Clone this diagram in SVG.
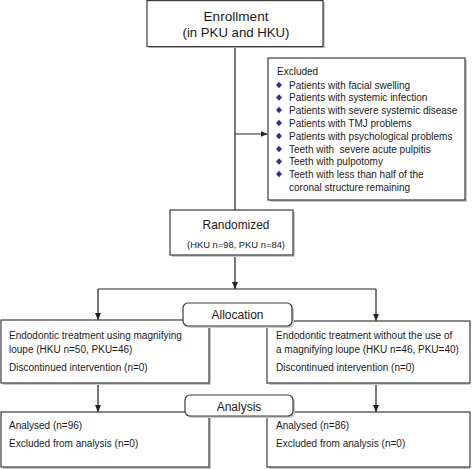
<svg xmlns="http://www.w3.org/2000/svg" width="472" height="469" viewBox="0 0 472 469">
<defs>
<marker id="arr" viewBox="0 0 7 6" refX="7" refY="3" markerWidth="7" markerHeight="6" markerUnits="userSpaceOnUse" orient="auto">
<path d="M0,0 L7,3 L0,6 z" fill="#222"/>
</marker>
</defs>
<style>
.box{fill:#fff;stroke:#3a3a3a;stroke-width:1.2}
.sh{fill:#c8c8c8;stroke:none}
.ln{fill:none;stroke:#222;stroke-width:1.2}
text{font-family:"Liberation Sans",Arial,sans-serif;fill:#1a1a1a}
.t{font-size:10px}
.bul{fill:#3b2a8c}
</style>
<rect width="472" height="469" fill="#fff"/>
<g id="connectors">
<path class="ln" d="M235,47 V210"/>
<path class="ln" d="M235,134 H267.5" marker-end="url(#arr)"/>
<path class="ln" d="M235,255 V289" marker-end="url(#arr)"/>
<path class="ln" d="M98,289 H376"/>
<path class="ln" d="M98,289 V320" marker-end="url(#arr)"/>
<path class="ln" d="M376,289 V321" marker-end="url(#arr)"/>
<path class="ln" d="M98,383 V412" marker-end="url(#arr)"/>
<path class="ln" d="M376,383 V412" marker-end="url(#arr)"/>
</g>
<g id="enrollment">
<rect class="sh" x="149" y="2" width="176" height="46"/>
<rect class="box" x="147" y="0.6" width="176" height="46"/>
<text x="236" y="20.5" font-size="13.6" text-anchor="middle">Enrollment</text>
<text x="236" y="37" font-size="13.2" text-anchor="middle">(in PKU and HKU)</text>
</g>
<g id="excluded">
<rect class="sh" x="270" y="60" width="197" height="142"/>
<rect class="box" x="268" y="58" width="197" height="142"/>
<text class="t" x="277" y="74.5">Excluded</text>
<g class="bul">
<path d="M279,81.8 l3,3.2 l-3,3.2 l-3,-3.2 z"/>
<path d="M279,94.3 l3,3.2 l-3,3.2 l-3,-3.2 z"/>
<path d="M279,106.8 l3,3.2 l-3,3.2 l-3,-3.2 z"/>
<path d="M279,119.8 l3,3.2 l-3,3.2 l-3,-3.2 z"/>
<path d="M279,132.8 l3,3.2 l-3,3.2 l-3,-3.2 z"/>
<path d="M279,145.8 l3,3.2 l-3,3.2 l-3,-3.2 z"/>
<path d="M279,158.3 l3,3.2 l-3,3.2 l-3,-3.2 z"/>
<path d="M279,170.8 l3,3.2 l-3,3.2 l-3,-3.2 z"/>
</g>
<text class="t" x="289" y="88.5">Patients with facial swelling</text>
<text class="t" x="289" y="101">Patients with systemic infection</text>
<text class="t" x="289" y="113.5">Patients with severe systemic disease</text>
<text class="t" x="289" y="126.5">Patients with TMJ problems</text>
<text class="t" x="289" y="139.5">Patients with psychological problems</text>
<text class="t" x="289" y="152.5" xml:space="preserve">Teeth with  severe acute pulpitis</text>
<text class="t" x="289" y="165">Teeth with pulpotomy</text>
<text class="t" x="289" y="177.5">Teeth with less than half of the</text>
<text class="t" x="289" y="190.5">coronal structure remaining</text>
</g>
<g id="randomized">
<rect class="sh" x="172" y="212" width="123" height="45"/>
<rect class="box" x="170" y="210" width="123" height="45"/>
<text x="236" y="229" font-size="11.9" text-anchor="middle">Randomized</text>
<text x="236" y="247.5" font-size="9.4" text-anchor="middle">(HKU n=98, PKU n=84)</text>
</g>
<g id="treat-left">
<rect class="sh" x="3" y="322" width="208" height="63"/>
<rect class="box" x="1" y="320" width="208" height="63"/>
<text class="t" x="9" y="339">Endodontic treatment using magnifying</text>
<text class="t" x="9" y="353">loupe (HKU n=50, PKU=46)</text>
<text class="t" x="9" y="371">Discontinued intervention (n=0)</text>
</g>
<g id="treat-right">
<rect class="sh" x="269" y="323" width="201" height="62"/>
<rect class="box" x="267" y="321" width="203" height="62"/>
<text class="t" x="276" y="339">Endodontic treatment without the use of</text>
<text class="t" x="276" y="353">a magnifying loupe (HKU n=46, PKU=40)</text>
<text class="t" x="276" y="371">Discontinued intervention (n=0)</text>
</g>
<g id="allocation">
<rect class="sh" x="185" y="305" width="109" height="23" rx="5"/>
<rect class="box" x="183" y="303" width="109" height="23" rx="5"/>
<text x="237.5" y="319" font-size="12" text-anchor="middle">Allocation</text>
</g>
<g id="analysed-left">
<rect class="sh" x="3" y="414" width="208" height="55"/>
<rect class="box" x="1" y="412" width="208" height="55"/>
<text class="t" x="9" y="429">Analysed (n=96)</text>
<text class="t" x="9" y="447">Excluded from analysis (n=0)</text>
</g>
<g id="analysed-right">
<rect class="sh" x="269" y="414" width="201" height="55"/>
<rect class="box" x="267" y="412" width="203" height="55"/>
<text class="t" x="276" y="429">Analysed (n=86)</text>
<text class="t" x="276" y="447">Excluded from analysis (n=0)</text>
</g>
<g id="analysis">
<rect class="sh" x="187" y="397" width="108" height="21" rx="5"/>
<rect class="box" x="185" y="395" width="108" height="21" rx="5"/>
<text x="239" y="410.5" font-size="12" text-anchor="middle">Analysis</text>
</g>
</svg>
